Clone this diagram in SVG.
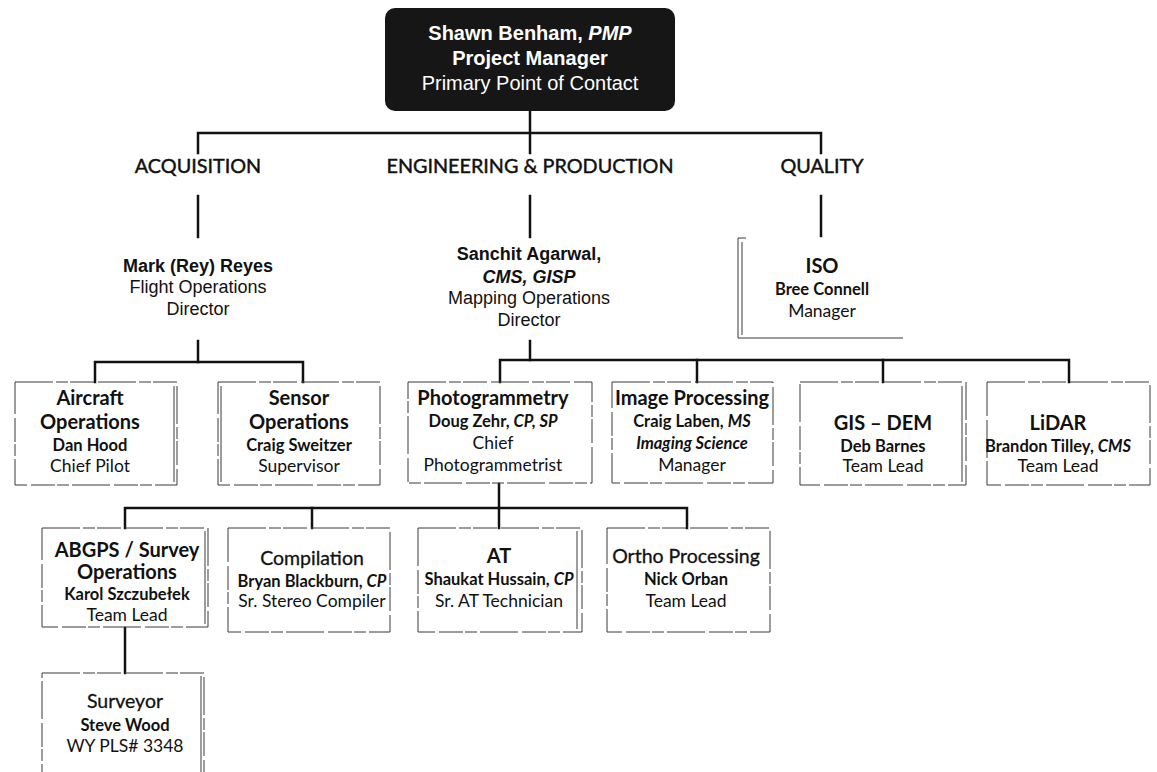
<svg xmlns="http://www.w3.org/2000/svg" width="1157" height="772" viewBox="0 0 1157 772">
  <style>
    .bg { fill: #ffffff; }
    .lead { fill: #161616; }
    .lead-t { font-family: "Liberation Sans", Arial, sans-serif; font-size: 20px; fill: #ffffff; text-anchor: middle; }
    .dir { font-family: "Liberation Sans", Arial, sans-serif; font-size: 18px; fill: #111; text-anchor: middle; }
    .head { font-family: Lato, "Open Sans", sans-serif; font-size: 19.8px; fill: #111; stroke: #111; stroke-width: 0.45; text-anchor: middle; }
    .ttl { font-family: Lato, "Open Sans", sans-serif; font-size: 20px; font-weight: bold; fill: #111; text-anchor: middle; }
    .ttl-r { font-family: Lato, "Open Sans", sans-serif; font-size: 19.5px; fill: #111; stroke: #111; stroke-width: 0.3; text-anchor: middle; }
    .nm { font-family: Lato, "Open Sans", sans-serif; font-size: 16.5px; font-weight: bold; fill: #111; text-anchor: middle; }
    .role { font-family: Lato, "Open Sans", sans-serif; font-size: 17.5px; fill: #111; text-anchor: middle; }
    .b { font-weight: bold; }
    .i { font-style: italic; }
    .box { fill: none; stroke: #3a3a3a; stroke-width: 1; stroke-dasharray: 38 3 12 2 24 4; }
    .edge { fill: none; stroke: #3a3a3a; stroke-width: 1; }
    .wire { fill: none; stroke: #111; stroke-width: 2.5; stroke-linecap: square; }
  </style>

  <rect class="bg" x="0" y="0" width="1157" height="772"/>

  <!-- connectors -->
  <g id="connectors">
    <path class="wire" d="M530,111 V153"/>
    <path class="wire" d="M198,153 V133 H821 V153"/>
    <path class="wire" d="M198,196 V237"/>
    <path class="wire" d="M530,196 V237"/>
    <path class="wire" d="M821,196 V236"/>
    <!-- acquisition branch -->
    <path class="wire" d="M198,341 V362"/>
    <path class="wire" d="M95,382 V362 H303 V382"/>
    <!-- engineering branch -->
    <path class="wire" d="M530,341 V360"/>
    <path class="wire" d="M500,382 V360 H1069 V382"/>
    <path class="wire" d="M697,360 V382"/>
    <path class="wire" d="M883,360 V382"/>
    <!-- photogrammetry branch -->
    <path class="wire" d="M499,484 V528"/>
    <path class="wire" d="M125,528 V508 H687 V528"/>
    <path class="wire" d="M312,508 V528"/>
    <!-- survey branch -->
    <path class="wire" d="M125,628 V673"/>
  </g>

  <!-- project manager -->
  <g id="pm">
    <rect class="lead" x="385" y="8" width="290" height="103" rx="10"/>
    <text class="lead-t b" x="530" y="40">Shawn Benham, <tspan class="i">PMP</tspan></text>
    <text class="lead-t b" x="530" y="65">Project Manager</text>
    <text class="lead-t" x="530" y="90">Primary Point of Contact</text>
  </g>

  <!-- division headings -->
  <g id="acquisition"><text class="head" x="198" y="173">ACQUISITION</text></g>
  <g id="engineering"><text class="head" x="530" y="173">ENGINEERING &amp; PRODUCTION</text></g>
  <g id="quality"><text class="head" x="822" y="173">QUALITY</text></g>

  <!-- directors -->
  <g id="flight-director">
    <text class="dir b" x="198" y="272">Mark (Rey) Reyes</text>
    <text class="dir" x="198" y="293">Flight Operations</text>
    <text class="dir" x="198" y="315">Director</text>
  </g>
  <g id="mapping-director">
    <text class="dir b" x="529" y="260">Sanchit Agarwal,</text>
    <text class="dir b i" x="529" y="283">CMS, GISP</text>
    <text class="dir" x="529" y="304">Mapping Operations</text>
    <text class="dir" x="529" y="326">Director</text>
  </g>
  <g id="iso">
    <path class="edge" d="M746,238 H738 V338 H903"/>
    <path class="edge" d="M742,242 V335"/>
    <text class="ttl" x="822" y="273">ISO</text>
    <text class="nm" x="822" y="295">Bree Connell</text>
    <text class="role" x="822" y="317">Manager</text>
  </g>

  <!-- acquisition units -->
  <g id="aircraft-ops">
    <rect class="box" x="15" y="382" width="162" height="103"/>
    <path class="edge" d="M174,386 V482"/>
    <text class="ttl" x="90" y="405">Aircraft</text>
    <text class="ttl" x="90" y="429">Operations</text>
    <text class="nm" x="90" y="451">Dan Hood</text>
    <text class="role" x="90" y="472">Chief Pilot</text>
  </g>
  <g id="sensor-ops">
    <rect class="box" x="218" y="382" width="162" height="103"/>
    <path class="edge" d="M221,386 V482"/>
    <text class="ttl" x="299" y="405">Sensor</text>
    <text class="ttl" x="299" y="429">Operations</text>
    <text class="nm" x="299" y="451">Craig Sweitzer</text>
    <text class="role" x="299" y="472">Supervisor</text>
  </g>

  <!-- engineering & production units -->
  <g id="photogrammetry">
    <rect class="box" x="408" y="382" width="184" height="101"/>
    <text class="ttl" x="493" y="405">Photogrammetry</text>
    <text class="nm" x="493" y="427">Doug Zehr, <tspan class="i">CP, SP</tspan></text>
    <text class="role" x="493" y="449">Chief</text>
    <text class="role" x="493" y="471">Photogrammetrist</text>
  </g>
  <g id="image-processing">
    <rect class="box" x="612" y="382" width="161" height="101"/>
    <text class="ttl" x="692" y="405">Image Processing</text>
    <text class="nm" x="692" y="427">Craig Laben, <tspan class="i">MS</tspan></text>
    <text class="nm i" x="692" y="449">Imaging Science</text>
    <text class="role" x="692" y="471">Manager</text>
  </g>
  <g id="gis-dem">
    <rect class="box" x="800" y="382" width="166" height="103"/>
    <path class="edge" d="M962,386 V482"/>
    <text class="ttl" x="883" y="430">GIS – DEM</text>
    <text class="nm" x="883" y="452">Deb Barnes</text>
    <text class="role" x="883" y="472">Team Lead</text>
  </g>
  <g id="lidar">
    <rect class="box" x="987" y="382" width="163" height="103"/>
    <text class="ttl" x="1058" y="430">LiDAR</text>
    <text class="nm" x="1058" y="452">Brandon Tilley, <tspan class="i">CMS</tspan></text>
    <text class="role" x="1058" y="472">Team Lead</text>
  </g>

  <!-- photogrammetry teams -->
  <g id="abgps-survey">
    <rect class="box" x="42" y="528" width="166" height="99"/>
    <path class="edge" d="M205,531 V624"/>
    <text class="ttl" x="127" y="557">ABGPS / Survey</text>
    <text class="ttl" x="127" y="579">Operations</text>
    <text class="nm" x="127" y="600">Karol Szczubełek</text>
    <text class="role" x="127" y="621">Team Lead</text>
  </g>
  <g id="compilation">
    <rect class="box" x="228" y="528" width="162" height="104"/>
    <text class="ttl-r" x="312" y="565">Compilation</text>
    <text class="nm" x="312" y="587">Bryan Blackburn, <tspan class="i">CP</tspan></text>
    <text class="role" x="312" y="607">Sr. Stereo Compiler</text>
  </g>
  <g id="at">
    <rect class="box" x="418" y="528" width="164" height="104"/>
    <path class="edge" d="M577,531 V629"/>
    <text class="ttl" x="499" y="563">AT</text>
    <text class="nm" x="499" y="585">Shaukat Hussain, <tspan class="i">CP</tspan></text>
    <text class="role" x="499" y="607">Sr. AT Technician</text>
  </g>
  <g id="ortho">
    <rect class="box" x="607" y="528" width="163" height="104"/>
    <text class="ttl-r" x="686" y="563">Ortho Processing</text>
    <text class="nm" x="686" y="585">Nick Orban</text>
    <text class="role" x="686" y="607">Team Lead</text>
  </g>

  <!-- survey crew -->
  <g id="surveyor">
    <rect class="box" x="42" y="673" width="162" height="110"/>
    <path class="edge" d="M201,676 V772"/>
    <text class="ttl-r" x="125" y="708">Surveyor</text>
    <text class="nm" x="125" y="731">Steve Wood</text>
    <text class="role" x="125" y="752">WY PLS# 3348</text>
  </g>
</svg>
